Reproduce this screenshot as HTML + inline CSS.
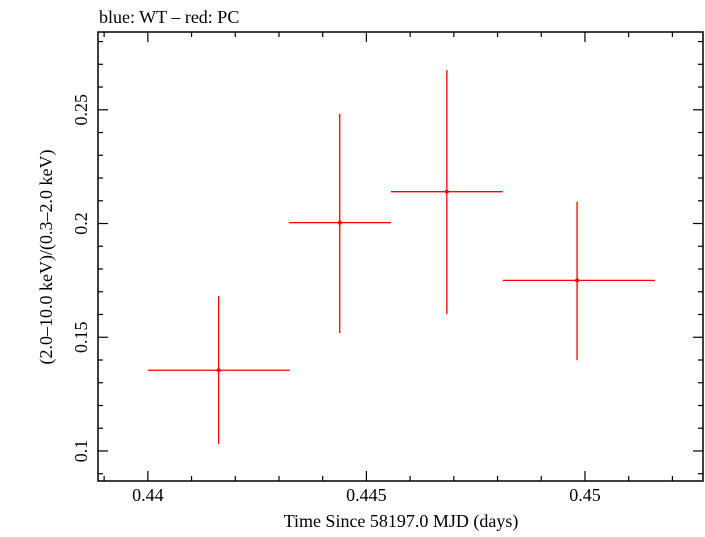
<!DOCTYPE html>
<html><head><meta charset="utf-8"><style>
body{margin:0;background:#fff;}
svg text{font-family:"Liberation Serif",serif;fill:#000;}
</style></head><body>
<svg id="chart" width="705" height="532" xmlns="http://www.w3.org/2000/svg">
<text x="99" y="23" font-size="18">blue: WT – red: PC</text>
<text x="401" y="527" font-size="18" text-anchor="middle">Time Since 58197.0 MJD (days)</text>
<text transform="translate(52,257) rotate(-90)" font-size="18" text-anchor="middle">(2.0–10.0 keV)/(0.3–2.0 keV)</text>
<g id="axes"></g><g id="marks"></g>
</svg>
<script>
const xCenters=[0.44162,0.44439,0.44684,0.44982];
const xLo=[0.44000,0.44323,0.44556,0.44812];
const xHi=[0.44325,0.44556,0.44812,0.45160];
const yVals=[0.1355,0.2004,0.2140,0.1750];
const yLo=[0.103,0.1518,0.1601,0.1399];
const yHi=[0.168,0.2482,0.2675,0.2096];
const xTicks=[0.44,0.445,0.45];
const xTickLabels=["0.44","0.445","0.45"];
const yTicks=[0.1,0.15,0.2,0.25];
const yTickLabels=["0.1","0.15","0.2","0.25"];
const L=98,R=703,T=32,B=481;
const X0=0.43886,X1=0.4527,Y0=0.0868,Y1=0.2842;
const sx=v=>L+(v-X0)/(X1-X0)*(R-L);
const sy=v=>B-(v-Y0)/(Y1-Y0)*(B-T);
const NS="http://www.w3.org/2000/svg";
function mk(p,t,a){const e=document.createElementNS(NS,t);for(const k in a)e.setAttribute(k,a[k]);p.appendChild(e);return e;}
const ax=document.getElementById('axes'),mg=document.getElementById('marks');
const fr=mk(ax,'rect',{x:L,y:T,width:R-L,height:B-T,fill:'none',stroke:'#000','stroke-width':1.5});


for(let i=0;i<=14;i++){const v=0.439+i*0.001;if(v<X0||v>X1)continue;const x=sx(v);const maj=Math.abs(v*1000%5)<1e-6||Math.abs(v*1000%5-5)<1e-6;const len=maj?10:5;
const t1=mk(ax,'line',{x1:x,x2:x,y1:B,y2:B-len,stroke:'#000','stroke-width':1.2});


const t2=mk(ax,'line',{x1:x,x2:x,y1:T,y2:T+len,stroke:'#000','stroke-width':1.2});

}
xTicks.forEach((v,i)=>{const t=mk(ax,'text',{x:sx(v),y:501,'font-size':18,'text-anchor':'middle'});t.textContent=xTickLabels[i];

});
for(let i=0;i<=20;i++){const v=0.09+i*0.01;if(v<Y0||v>Y1)continue;const y=sy(v);const maj=Math.abs((v*100)%5)<1e-6||Math.abs((v*100)%5-5)<1e-6;const len=maj?10:5;
const t1=mk(ax,'line',{x1:L,x2:L+len,y1:y,y2:y,stroke:'#000','stroke-width':1.2});


const t2=mk(ax,'line',{x1:R,x2:R-len,y1:y,y2:y,stroke:'#000','stroke-width':1.2});

}
yTicks.forEach((v,i)=>{const t=mk(ax,'text',{transform:`translate(87,${sy(v)}) rotate(-90)`,'font-size':18,'text-anchor':'middle'});t.textContent=yTickLabels[i];

});
xCenters.forEach((c,i)=>{
const h=mk(mg,'line',{x1:sx(xLo[i]),x2:sx(xHi[i]),y1:sy(yVals[i]),y2:sy(yVals[i]),stroke:'#f00','stroke-width':1.3});


const v=mk(mg,'line',{x1:sx(c),x2:sx(c),y1:sy(yLo[i]),y2:sy(yHi[i]),stroke:'#f00','stroke-width':1.3});


const p=mk(mg,'circle',{cx:sx(c),cy:sy(yVals[i]),r:2,fill:'#f00'});

});
</script>
</body></html>
